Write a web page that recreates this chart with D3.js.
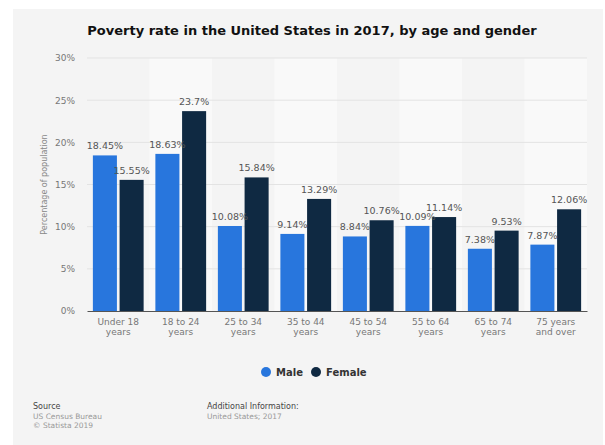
<!DOCTYPE html>
<html>
<head>
<meta charset="utf-8">
<script src="https://cdn.jsdelivr.net/npm/d3@7"></script>
<style>
  body { margin: 0; background: #fff; }
  svg { display: block; font-family: "DejaVu Sans", sans-serif; }
</style>
</head>
<body>
<div id="chart-container"></div>
<script>
// data
const categories = [["Under 18", "years"], ["18 to 24", "years"], ["25 to 34", "years"], ["35 to 44", "years"],
                    ["45 to 54", "years"], ["55 to 64", "years"], ["65 to 74", "years"], ["75 years", "and over"]];
const maleValues = [18.45, 18.63, 10.08, 9.14, 8.84, 10.09, 7.38, 7.87];
const femaleValues = [15.55, 23.7, 15.84, 13.29, 10.76, 11.14, 9.53, 12.06];
const seriesNames = ["Male", "Female"];
const yTicks = [0, 5, 10, 15, 20, 25, 30];

const colors = {Male: "#2876dd", Female: "#0f2942"};

const W = 605, H = 445;
const margin = {top: 58, right: 18, bottom: 134, left: 87};
const width = W - margin.left - margin.right;
const height = H - margin.top - margin.bottom;

const svg = d3.select("#chart-container").append("svg")
    .attr("width", W)
    .attr("height", H);

// grey card
svg.append("rect")
    .attr("x", 13).attr("y", 9)
    .attr("width", W - 15).attr("height", H - 9)
    .attr("fill", "#f4f4f4");

svg.append("text")
    .attr("x", 312).attr("y", 35)
    .attr("text-anchor", "middle")
    .attr("font-weight", "bold")
    .attr("font-size", 13)
    .attr("fill", "#111")
    .text("Poverty rate in the United States in 2017, by age and gender");

const chartGroup = svg.append("g")
    .attr("transform", `translate(${margin.left}, ${margin.top})`);

const keys = categories.map(c => c.join(" "));
const xScale = d3.scaleBand().domain(keys).range([0, width]);
const xInner = d3.scaleBand().domain(seriesNames).range([0, xScale.bandwidth()])
    .paddingInner(0.1).paddingOuter(0.22);
const yScale = d3.scaleLinear().domain([0, 30]).range([height, 0]);

// alternating column bands
chartGroup.selectAll(".band")
    .data(keys.filter((k, i) => i % 2 === 1))
    .enter().append("rect")
    .attr("class", "band")
    .attr("x", d => xScale(d))
    .attr("y", 0)
    .attr("width", xScale.bandwidth())
    .attr("height", height)
    .attr("fill", "#f9f9f9");

// gridlines
chartGroup.selectAll(".grid")
    .data(yTicks.slice(1))
    .enter().append("line")
    .attr("x1", 0).attr("x2", width)
    .attr("y1", d => yScale(d)).attr("y2", d => yScale(d))
    .attr("stroke", "#e3e3e3")
    .attr("stroke-width", 1);

const yAxis = chartGroup.append("g")
    .call(d3.axisLeft(yScale).tickValues(yTicks).tickFormat(d => d + "%").tickSize(0).tickPadding(12));
yAxis.select(".domain").remove();
yAxis.selectAll("text")
    .attr("font-size", 9)
    .attr("fill", "#777")
    .attr("font-family", "DejaVu Sans, sans-serif");

svg.append("text")
    .attr("transform", `translate(47, ${margin.top + height / 2}) rotate(-90)`)
    .attr("text-anchor", "middle")
    .attr("font-size", 8)
    .attr("fill", "#888")
    .text("Percentage of population");

const rows = keys.map((k, i) => ({key: k, Male: maleValues[i], Female: femaleValues[i]}));

const groups = chartGroup.selectAll(".cat")
    .data(rows)
    .enter().append("g")
    .attr("class", "cat")
    .attr("transform", d => `translate(${xScale(d.key)}, 0)`);

groups.selectAll("rect")
    .data(d => seriesNames.map(s => ({s: s, v: d[s]})))
    .enter().append("rect")
    .attr("x", d => xInner(d.s))
    .attr("y", d => yScale(d.v))
    .attr("width", xInner.bandwidth())
    .attr("height", d => height - yScale(d.v))
    .attr("fill", d => colors[d.s]);

groups.selectAll(".val")
    .data(d => seriesNames.map(s => ({s: s, v: d[s]})))
    .enter().append("text")
    .attr("class", "val")
    .attr("x", d => xInner(d.s) + xInner.bandwidth() / 2)
    .attr("y", d => yScale(d.v) - 6)
    .attr("text-anchor", "middle")
    .attr("font-size", 9.5)
    .attr("fill", "#555")
    .text(d => d.v + "%");

// x axis
const xAxis = chartGroup.append("g")
    .attr("transform", `translate(0, ${height})`)
    .call(d3.axisBottom(xScale).tickSize(0).tickFormat(""));
xAxis.select(".domain").attr("stroke", "#555").attr("stroke-width", 1.2);

xAxis.selectAll(".tick").each(function(d, i) {
    const t = d3.select(this).select("text")
        .attr("font-size", 9)
        .attr("fill", "#777")
        .attr("font-family", "DejaVu Sans, sans-serif")
        .attr("y", 14)
        .text(null);
    categories[i].forEach((line, j) => {
        t.append("tspan").attr("x", 0).attr("dy", j === 0 ? 0 : 10).text(line);
    });
});

// legend
const legend = svg.append("g").attr("transform", "translate(266, 372)");
const legendX = [0, 50];
seriesNames.forEach((s, i) => {
    legend.append("circle")
        .attr("cx", legendX[i]).attr("cy", 0).attr("r", 5)
        .attr("fill", colors[s]);
    legend.append("text")
        .attr("x", legendX[i] + 10).attr("y", 4)
        .attr("font-size", 10)
        .attr("font-weight", "bold")
        .attr("fill", "#333")
        .text(s);
});

// footer
const footer = [
    {x: 33, y: 409, t: "Source", c: "#444", s: 8},
    {x: 33, y: 419, t: "US Census Bureau", c: "#999", s: 7.5},
    {x: 33, y: 428, t: "\u00a9 Statista 2019", c: "#999", s: 7.5},
    {x: 207, y: 409, t: "Additional Information:", c: "#444", s: 8},
    {x: 207, y: 419, t: "United States; 2017", c: "#999", s: 7.5}
];
svg.selectAll(".foot")
    .data(footer)
    .enter().append("text")
    .attr("class", "foot")
    .attr("x", d => d.x).attr("y", d => d.y)
    .attr("font-size", d => d.s)
    .attr("fill", d => d.c)
    .text(d => d.t);
</script>
</body>
</html>
